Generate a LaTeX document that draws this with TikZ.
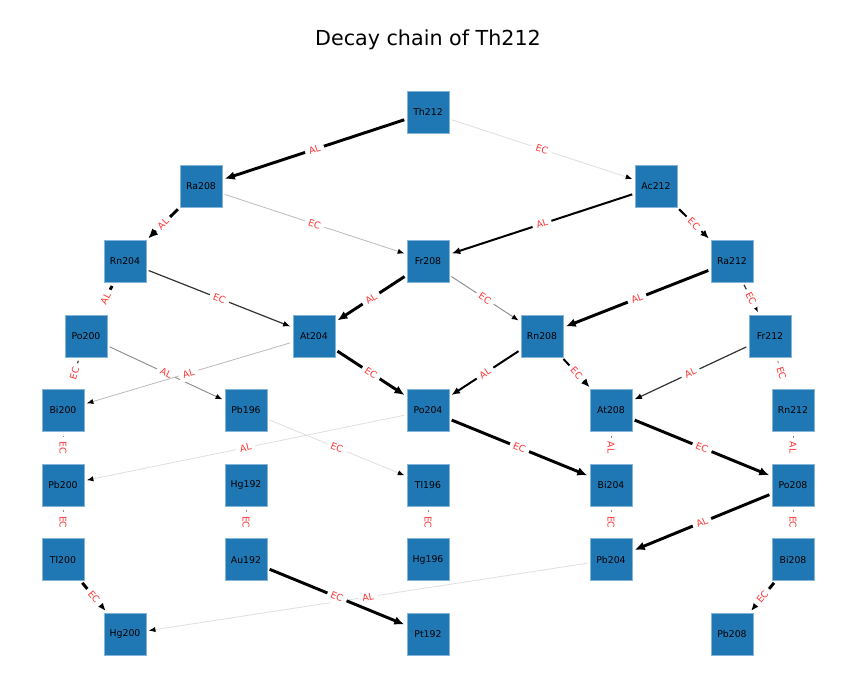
\documentclass[tikz,border=0pt]{standalone}
\usepackage{fontspec}
\setmainfont{DejaVu Sans}
\usepackage{tikz}
\usetikzlibrary{arrows.meta}
\definecolor{nucblue}{RGB}{31,119,180}
\tikzset{
nuc/.style={
  rectangle,
  minimum size=31.5pt,
  inner sep=0pt,
  fill=nucblue,
  draw=nucblue!55!white,
  line width=0.3pt,
  font=\fontsize{7}{8}\selectfont
  },
lbl/.style={
  sloped,
  fill=white,
  inner sep=3pt,
  text=red!80,
  font=\fontsize{7}{8}\selectfont
  },
strong/.style={line width=2.2pt,draw=black},
medium/.style={line width=1.5pt,draw=black},
weak/.style={line width=0.9pt,draw=black!80},
pale/.style={line width=0.7pt,draw=black!45},
light/.style={line width=0.6pt,draw=black!27},
faint/.style={line width=0.6pt,draw=black!13},
stub/.style={-,shorten <=3pt,shorten >=18pt}
}

\begin{document}
\begin{tikzpicture}[x=0.75pt,y=-0.75pt,->,>={Latex[length=4pt 1.6,width=3pt 1.6,color=black]},shorten >=2pt,shorten <=2pt]
            \useasboundingbox (0,0) rectangle (850,696);
            \node (title) at (428,40) {\fontsize{15.5}{18}\selectfont Decay chain of Th212};
            % nuclides, one row per decay step
            \node[nuc] (th212) at (428,112) {Th212};
            \node[nuc] (ra208) at (201,186.6) {Ra208};
            \node[nuc] (ac212) at (656,186.6) {Ac212};
            \node[nuc] (rn204) at (125,261.2) {Rn204};
            \node[nuc] (fr208) at (428,261.2) {Fr208};
            \node[nuc] (ra212) at (732,261.2) {Ra212};
            \node[nuc] (po200) at (86,335.8) {Po200};
            \node[nuc] (at204) at (314,335.8) {At204};
            \node[nuc] (rn208) at (542,335.8) {Rn208};
            \node[nuc] (fr212) at (770,335.8) {Fr212};
            \node[nuc] (bi200) at (63,410.4) {Bi200};
            \node[nuc] (pb196) at (246,410.4) {Pb196};
            \node[nuc] (po204) at (428,410.4) {Po204};
            \node[nuc] (at208) at (611,410.4) {At208};
            \node[nuc] (rn212) at (793,410.4) {Rn212};
            \node[nuc] (pb200) at (63,485) {Pb200};
            \node[nuc] (hg192) at (246,485) {Hg192};
            \node[nuc] (tl196) at (428,485) {Tl196};
            \node[nuc] (bi204) at (611,485) {Bi204};
            \node[nuc] (po208) at (793,485) {Po208};
            \node[nuc] (tl200) at (63,559.6) {Tl200};
            \node[nuc] (au192) at (246,559.6) {Au192};
            \node[nuc] (hg196) at (428,559.6) {Hg196};
            \node[nuc] (pb204) at (611,559.6) {Pb204};
            \node[nuc] (bi208) at (793,559.6) {Bi208};
            \node[nuc] (hg200) at (125,634.2) {Hg200};
            \node[nuc] (pt192) at (428,634.2) {Pt192};
            \node[nuc] (pb208) at (732,634.2) {Pb208};
            % decays
            \path
            (th212) edge [faint] node[lbl] {EC} (ac212)
            (ra208) edge [light] node[lbl] {EC} (fr208)
            (fr208) edge [pale] node[lbl] {EC} (rn208)
            (po200) edge [pale] node[lbl] {AL} (pb196)
            (at204) edge [light] node[lbl] {AL} (bi200)
            (pb196) edge [faint] node[lbl] {EC} (tl196)
            (po204) edge [faint] node[lbl] {AL} (pb200)
            (pb204) edge [faint] node[lbl] {AL} (hg200)
            (th212) edge [strong] node[lbl] {AL} (ra208)
            (ra208) edge [strong] node[lbl] {AL} (rn204)
            (ac212) edge [medium] node[lbl] {AL} (fr208)
            (ac212) edge [medium] node[lbl] {EC} (ra212)
            (rn204) edge [strong,stub] node[lbl] {AL} (po200)
            (rn204) edge [weak] node[lbl] {EC} (at204)
            (fr208) edge [strong] node[lbl] {AL} (at204)
            (ra212) edge [strong] node[lbl] {AL} (rn208)
            (ra212) edge [weak] node[lbl] {EC} (fr212)
            (po200) edge [weak,stub] node[lbl] {EC} (bi200)
            (at204) edge [strong] node[lbl] {EC} (po204)
            (rn208) edge [medium] node[lbl] {AL} (po204)
            (rn208) edge [medium] node[lbl] {EC} (at208)
            (fr212) edge [weak] node[lbl] {AL} (at208)
            (fr212) edge [pale,stub] node[lbl] {EC} (rn212)
            (po204) edge [strong] node[lbl] {EC} (bi204)
            (at208) edge [pale,stub] node[lbl] {AL} (bi204)
            (at208) edge [strong] node[lbl] {EC} (po208)
            (rn212) edge [pale,stub] node[lbl] {AL} (po208)
            (bi200) edge [pale,stub] node[lbl] {EC} (pb200)
            (pb200) edge [pale,stub] node[lbl] {EC} (tl200)
            (hg192) edge [pale,stub] node[lbl] {EC} (au192)
            (tl196) edge [pale,stub] node[lbl] {EC} (hg196)
            (bi204) edge [pale,stub] node[lbl] {EC} (pb204)
            (po208) edge [pale,stub] node[lbl] {EC} (bi208)
            (po208) edge [strong] node[lbl] {AL} (pb204)
            (tl200) edge [strong] node[lbl] {EC} (hg200)
            (au192) edge [strong] node[lbl] {EC} (pt192)
            (bi208) edge [strong] node[lbl] {EC} (pb208)
            ;
        \end{tikzpicture}
\end{document}
